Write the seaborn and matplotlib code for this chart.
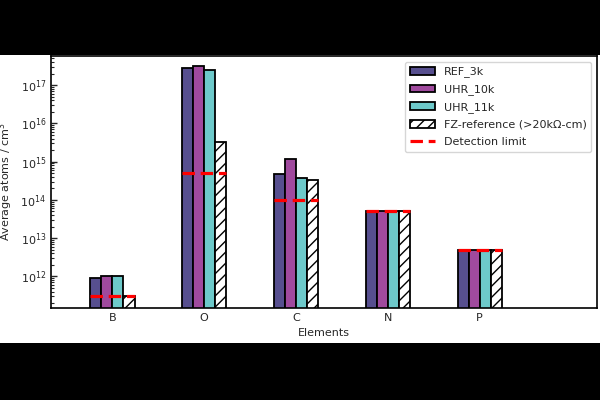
import numpy as np
import pandas as pd
import matplotlib
matplotlib.use("Agg")
import matplotlib.pyplot as plt
import seaborn as sns

elements = ["B", "O", "C", "N", "P"]
samples = ["REF_3k", "UHR_10k", "UHR_11k", "FZ-reference (>20k\u03a9-cm)"]
ref_3k = [9.4e11, 2.8e17, 4.8e14, 5.0e13, 5.0e12]
uhr_10k = [1.0e12, 3.1e17, 1.2e15, 5.0e13, 5.0e12]
uhr_11k = [1.02e12, 2.5e17, 3.8e14, 5.0e13, 5.0e12]
fz_ref = [3.0e11, 3.2e15, 3.4e14, 5.0e13, 5.0e12]
detection_limit = [3.0e11, 5.0e14, 1.0e14, 5.0e13, 5.0e12]

colors = ["#574f8f", "#a04a9e", "#6dc9ca", "white"]

df = pd.DataFrame({
    "element": np.repeat(elements, 4),
    "sample": samples * len(elements),
    "value": [v for grp in zip(ref_3k, uhr_10k, uhr_11k, fz_ref) for v in grp],
})

sns.set_theme(style="white")
plt.rcParams["font.family"] = ["DejaVu Sans"]

fig = plt.figure(figsize=(6, 4), dpi=100, facecolor="black")
# white band behind the plot (letterboxed picture)
bg = fig.add_axes([0, 1 - 343 / 400, 1, (343 - 55) / 400], zorder=0)
bg.set_facecolor("white")
bg.axis("off")
bg.add_patch(plt.Rectangle((0, 0), 1, 1, transform=bg.transAxes,
                           facecolor="white", edgecolor="none"))

ax = fig.add_axes([51 / 600, 1 - 308 / 400, (597 - 51) / 600, (308 - 56) / 400],
                  zorder=1)
ax.set_yscale("log")

sns.barplot(data=df, x="element", y="value", hue="sample", order=elements,
            hue_order=samples, palette=colors, saturation=1, width=0.48, gap=0,
            edgecolor="black", linewidth=1.3, ax=ax, legend=True)

ymin = 1.5e11
for cont, s in zip(ax.containers, samples):
    for bar in cont:
        # start bars just below the visible floor of the log axis
        top = bar.get_y() + bar.get_height()
        bar.set_y(1e10)
        bar.set_height(top - 1e10)
        if s.startswith("FZ"):
            bar.set_hatch("///")
            bar.set_facecolor("white")

dl_style = (0, (3.9, 1.8))
x = np.arange(len(elements))
for xi, dl in zip(x, detection_limit):
    ax.plot([xi - 0.24, xi + 0.24], [dl, dl], color="red", lw=2.3,
            ls=dl_style, zorder=5)
ax.plot([], [], color="red", lw=2.3, ls=dl_style, label="Detection limit")

ax.set_ylim(ymin, 5.8e17)
ax.set_xlim(-0.67, 5.28)
ax.set_xlabel("Elements", fontsize=8)
ax.set_ylabel("Average atoms / cm$^3$", fontsize=8)
ax.tick_params(axis="both", which="both", direction="in", labelsize=8,
               left=True, bottom=True)
ax.tick_params(axis="y", which="major", length=4, width=1)
ax.tick_params(axis="y", which="minor", length=2, width=0.8)
ax.tick_params(axis="x", which="major", length=3)
for sp in ax.spines.values():
    sp.set_color("black")
    sp.set_linewidth(1.2)

handles, labels = ax.get_legend_handles_labels()
leg = ax.legend(handles, labels, loc="upper right", fontsize=8,
                frameon=True, handlelength=2.2, borderpad=0.45,
                labelspacing=0.62, handletextpad=0.8)
leg.get_frame().set_edgecolor("#cccccc")
for h in leg.legend_handles:
    if not isinstance(h, plt.Line2D):
        h.set_edgecolor("black")
        h.set_linewidth(1.3)
leg.legend_handles[3].set_hatch("///")

fig.savefig("out.png", dpi=100, facecolor="black")
